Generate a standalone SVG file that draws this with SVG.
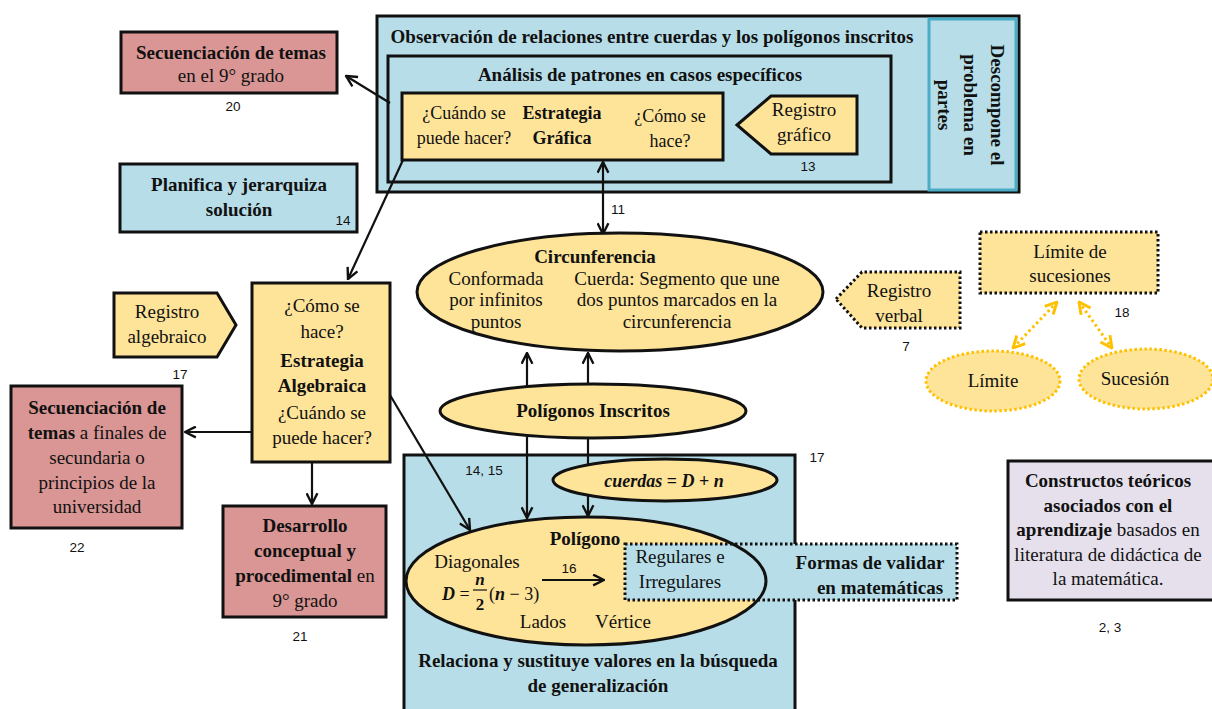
<svg xmlns="http://www.w3.org/2000/svg" width="1212" height="709" viewBox="0 0 1212 709">
<style>
text{font-family:"Liberation Serif","Times New Roman",serif;font-size:19px;fill:#111;text-anchor:middle}
.b{font-weight:bold}
.t{font-size:19px;font-weight:bold}
.s{font-size:18px}
.n{font-family:"Liberation Sans",Arial,sans-serif;font-size:13.5px}
.blue{fill:#b7dee8;stroke:#111;stroke-width:3}
.yel{fill:#fee499;stroke:#111;stroke-width:3}
.red{fill:#d99694;stroke:#111;stroke-width:3}
.dot{stroke-dasharray:2.5 2.5}
.ln{fill:none;stroke:#111;stroke-width:2.2}
.gold{fill:none;stroke:#ffc000;stroke-width:3;stroke-dasharray:2.5 3}
.bi{font-weight:bold;font-style:italic}
</style>
<defs>
<marker id="a" viewBox="0 0 12 12" refX="11" refY="6" markerWidth="13" markerHeight="13" orient="auto-start-reverse" markerUnits="userSpaceOnUse"><path d="M1,1 L11,6 L1,11" fill="none" stroke="#111" stroke-width="2.2"/></marker>
<marker id="g" viewBox="0 0 12 12" refX="11" refY="6" markerWidth="14" markerHeight="14" orient="auto-start-reverse" markerUnits="userSpaceOnUse"><path d="M1,1 L11,6 L1,11" fill="none" stroke="#ffc000" stroke-width="2.5"/></marker>
</defs>

<g id="observacion">
<rect class="blue" x="377" y="16" width="642" height="176"/>
<text class="t" x="652" y="43">Observación de relaciones entre cuerdas y los polígonos inscritos</text>
</g>
<g id="descompone">
<rect x="929" y="19" width="87" height="171" fill="#b7dee8" stroke="#4bacc6" stroke-width="3"/>
<text class="t" transform="rotate(90 991 105)" x="991" y="105">Descompone el</text>
<text class="t" transform="rotate(90 964 105)" x="964" y="105">problema en</text>
<text class="t" transform="rotate(90 938 105)" x="938" y="105">partes</text>
</g>
<g id="analisis">
<rect class="blue" x="388" y="56" width="503" height="126"/>
<text class="t" x="640" y="81">Análisis de patrones en casos específicos</text>
</g>
<g id="relaciona">
<rect class="blue" x="404" y="455" width="391" height="260"/>
<text class="t" x="598" y="667">Relaciona y sustituye valores en la búsqueda</text>
<text class="t" x="598" y="692">de generalización</text>
</g>
<g id="poligono">
<ellipse cx="586" cy="581" rx="180" ry="64" fill="#fee499"/>
<rect x="625" y="544" width="332" height="56" fill="#b7dee8" stroke="#111" stroke-width="3" class="dot"/>
<ellipse cx="586" cy="581" rx="180" ry="64" fill="none" stroke="#111" stroke-width="3"/>
<text class="t" x="585" y="545">Polígono</text>
<text x="477" y="568">Diagonales</text>
<text class="bi" x="442" y="600" style="text-anchor:start;font-size:18px">D<tspan style="font-weight:normal;font-style:normal"> =</tspan></text>
<text class="bi" x="480" y="585" style="font-size:17px">n</text>
<line x1="473" y1="590" x2="487" y2="590" stroke="#111" stroke-width="1.2"/>
<text class="b" x="480" y="610" style="font-size:17px">2</text>
<text x="489" y="600" style="text-anchor:start;font-size:18px">(<tspan class="bi">n</tspan> − 3)</text>
<text class="n" x="569" y="573">16</text>
<text x="543" y="628">Lados</text>
<text x="623" y="628">Vértice</text>
<text x="680" y="563">Regulares e</text>
<text x="680" y="588">Irregulares</text>
<text class="t" x="870" y="569">Formas de validar</text>
<text class="t" x="880" y="594">en matemáticas</text>
</g>

<g id="connectors">
<line class="ln" x1="390" y1="103" x2="346" y2="76" marker-end="url(#a)"/>
<line class="ln" x1="403" y1="160" x2="348" y2="279" marker-end="url(#a)"/>
<line class="ln" x1="603" y1="162" x2="603" y2="234" marker-start="url(#a)" marker-end="url(#a)"/>
<line class="ln" x1="527" y1="386" x2="527" y2="353" marker-end="url(#a)"/>
<line class="ln" x1="588" y1="384" x2="588" y2="353" marker-end="url(#a)"/>
<line class="ln" x1="527" y1="437" x2="527" y2="518" marker-end="url(#a)"/>
<line class="ln" x1="588" y1="438" x2="588" y2="516" marker-end="url(#a)"/>
<line class="ln" x1="390" y1="395" x2="470" y2="530" marker-end="url(#a)"/>
<line class="ln" x1="252" y1="432" x2="185" y2="432" marker-end="url(#a)"/>
<line class="ln" x1="312" y1="462" x2="312" y2="504" marker-end="url(#a)"/>
<line class="ln" x1="542" y1="580" x2="604" y2="580" marker-end="url(#a)"/>
<line class="gold" x1="1057" y1="302" x2="1013" y2="348" marker-start="url(#g)" marker-end="url(#g)"/>
<line class="gold" x1="1079" y1="302" x2="1112" y2="348" marker-start="url(#g)" marker-end="url(#g)"/>
</g>

<g id="estrategia-grafica">
<rect class="yel" x="402" y="93" width="321" height="67"/>
<text class="s" x="464" y="119">¿Cuándo se</text>
<text class="s" x="464" y="144">puede hacer?</text>
<text class="b s" x="562" y="119">Estrategia</text>
<text class="b s" x="562" y="144">Gráfica</text>
<text class="s" x="670" y="122">¿Cómo se</text>
<text class="s" x="670" y="147">hace?</text>
</g>
<g id="registro-grafico">
<polygon class="yel" points="737,125 771,96 857,96 857,154 771,154"/>
<text x="804" y="116">Registro</text>
<text x="804" y="141">gráfico</text>
<text class="n" x="808" y="171">13</text>
</g>
<g id="secuenciacion-9">
<rect class="red" x="121" y="32" width="216" height="61"/>
<text class="t" x="231" y="59">Secuenciación de temas</text>
<text x="231" y="82">en el 9° grado</text>
<text class="n" x="233" y="111">20</text>
</g>
<g id="planifica">
<rect class="blue" x="120" y="164" width="237" height="68"/>
<text class="t" x="239" y="191">Planifica y jerarquiza</text>
<text class="t" x="239" y="216">solución</text>
<text class="n" x="343" y="225">14</text>
</g>
<g id="registro-algebraico">
<polygon class="yel" points="114,293 217,293 236,325 217,357 114,357"/>
<text x="167" y="318">Registro</text>
<text x="167" y="343">algebraico</text>
<text class="n" x="180" y="379">17</text>
</g>
<g id="estrategia-algebraica">
<rect class="yel" x="252" y="283" width="138" height="179"/>
<text x="322" y="312">¿Cómo se</text>
<text x="322" y="338">hace?</text>
<text class="t" x="322" y="367">Estrategia</text>
<text class="t" x="322" y="392">Algebraica</text>
<text x="322" y="419">¿Cuándo se</text>
<text x="322" y="444">puede hacer?</text>
</g>
<g id="secuenciacion-secundaria">
<rect class="red" x="11" y="386" width="171" height="142"/>
<text class="t" x="97" y="414">Secuenciación de</text>
<text x="97" y="439"><tspan class="t">temas</tspan> a finales de</text>
<text x="97" y="464">secundaria o</text>
<text x="97" y="489">principios de la</text>
<text x="97" y="513">universidad</text>
<text class="n" x="77" y="552">22</text>
</g>
<g id="desarrollo">
<rect class="red" x="223" y="506" width="163" height="111"/>
<text class="t" x="305" y="532">Desarrollo</text>
<text class="t" x="305" y="557">conceptual y</text>
<text x="305" y="582"><tspan class="t">procedimental</tspan> en</text>
<text x="305" y="607">9° grado</text>
<text class="n" x="300" y="641">21</text>
</g>
<g id="circunferencia">
<ellipse class="yel" cx="620" cy="292" rx="203" ry="59"/>
<text class="t" x="595" y="263">Circunferencia</text>
<text x="496" y="285">Conformada</text>
<text x="496" y="306">por infinitos</text>
<text x="496" y="328">puntos</text>
<text x="677" y="285">Cuerda: Segmento que une</text>
<text x="677" y="306">dos puntos marcados en la</text>
<text x="677" y="328">circunferencia</text>
<text class="n" x="618" y="214">11</text>
</g>
<g id="poligonos-inscritos">
<ellipse class="yel" cx="593" cy="411" rx="153" ry="27"/>
<text class="t" x="593" y="417">Polígonos Inscritos</text>
</g>
<g id="cuerdas">
<ellipse class="yel" cx="665" cy="480" rx="112" ry="21"/>
<text class="bi" x="664" y="487" style="font-size:18px">cuerdas <tspan style="font-weight:bold;font-style:normal">=</tspan> D <tspan style="font-weight:bold;font-style:normal">+</tspan> n</text>
<text class="n" x="484" y="475">14, 15</text>
<text class="n" x="817" y="462">17</text>
</g>
<g id="registro-verbal">
<polygon class="yel dot" points="836,299 862,272 960,272 960,328 862,328"/>
<text x="899" y="297">Registro</text>
<text x="899" y="322">verbal</text>
<text class="n" x="906" y="351">7</text>
</g>
<g id="limite-sucesiones">
<rect class="yel dot" x="980" y="232" width="178" height="61"/>
<text x="1070" y="258">Límite de</text>
<text x="1070" y="282">sucesiones</text>
<text class="n" x="1122" y="317">18</text>
</g>
<g id="limite">
<ellipse cx="993" cy="381" rx="67" ry="30" fill="#fee499" stroke="#ffc000" stroke-width="3" class="dot"/>
<text x="993" y="387">Límite</text>
</g>
<g id="sucesion">
<ellipse cx="1146" cy="379" rx="67" ry="30" fill="#fee499" stroke="#ffc000" stroke-width="3" class="dot"/>
<text x="1135" y="385">Sucesión</text>
</g>
<g id="constructos">
<rect x="1008" y="461" width="210" height="139" fill="#e5e0ec" stroke="#111" stroke-width="3"/>
<text class="t" x="1108" y="487">Constructos teóricos</text>
<text class="t" x="1108" y="512">asociados con el</text>
<text x="1108" y="536"><tspan class="t">aprendizaje</tspan> basados en</text>
<text x="1108" y="561">literatura de didáctica de</text>
<text x="1108" y="585">la matemática.</text>
<text class="n" x="1110" y="632">2, 3</text>
</g>
</svg>
